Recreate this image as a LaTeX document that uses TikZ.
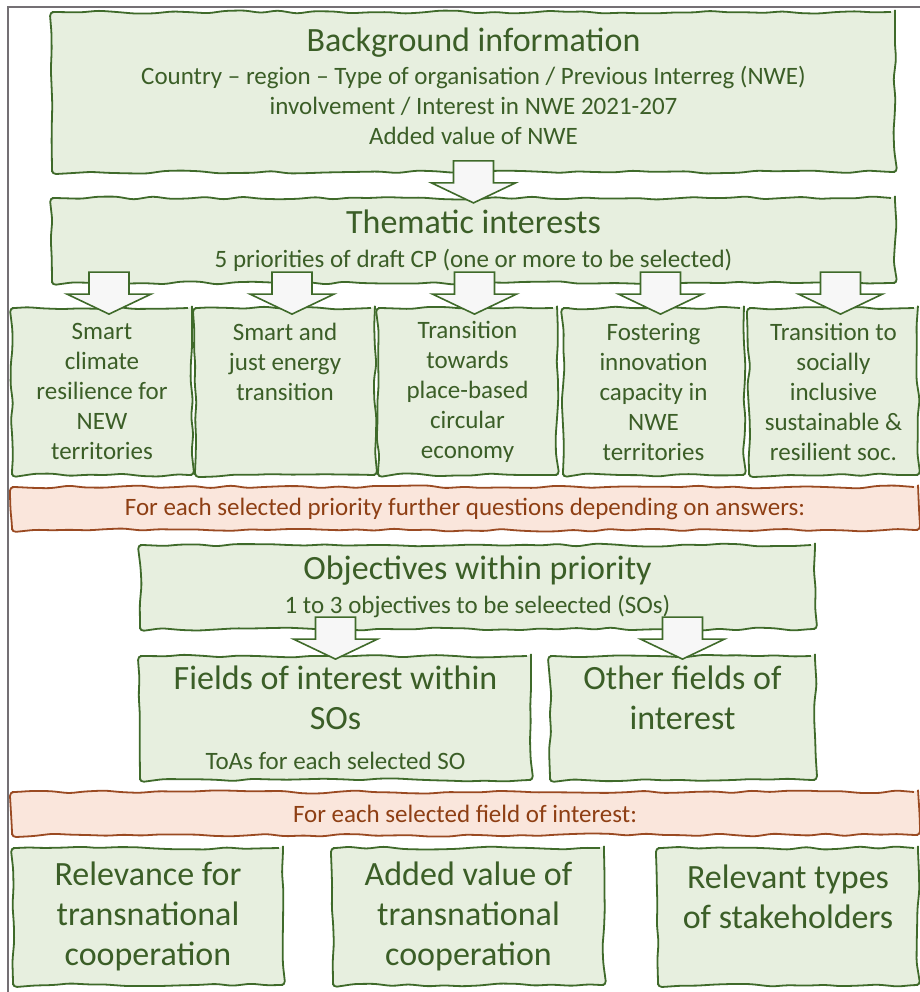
\documentclass[tikz,border=0pt]{standalone}
\usepackage{fontspec}
\setmainfont{Carlito}
\usetikzlibrary{positioning,decorations.pathmorphing}

\definecolor{boxgreen}{HTML}{E7EFDF}
\definecolor{linegreen}{HTML}{3F6A2A}
\definecolor{textgreen}{HTML}{3B5E27}
\definecolor{boxorange}{HTML}{FAE6DC}
\definecolor{lineorange}{HTML}{9A4A22}
\definecolor{textorange}{HTML}{8E3F14}
\definecolor{framegray}{HTML}{747074}

\newcommand\bigtxt{\fontsize{17}{20}\selectfont}
\newcommand\smalltxt{\fontsize{12.5}{15}\selectfont}

\tikzset{
  downarrow/.pic={
    \draw[arrowbody] (-20,-42) -- (-20,-20) -- (-42,-20) -- (0,0)
      -- (42,-20) -- (20,-20) -- (20,-42) -- cycle;
  }
}

\begin{document}
\begin{tikzpicture}[x=0.5pt, y=-0.5pt,
    sketch/.style={decorate, decoration={random steps, segment length=9pt, amplitude=0.8pt}, rounded corners=2pt},
    greenbox/.style={sketch, draw=linegreen, fill=boxgreen, line width=0.9pt, text=textgreen, align=center, inner sep=0pt},
    notebox/.style={sketch, draw=lineorange, fill=boxorange, line width=0.9pt, text=textorange, inner sep=0pt, font=\smalltxt},
    arrowbody/.style={draw=linegreen, fill=white!97!black, line width=0.8pt, line join=miter}
]
\pgfmathsetseed{7}
\useasboundingbox (0,0) rectangle (920,992);

% frame
\draw[framegray, line width=1pt] (8,992) -- (8,7) -- (920,7);

% Background and themes
\node[greenbox, font=\smalltxt, text depth=6pt, minimum width=421.5pt, minimum height=80pt] (background) at (473.5,92)
  {{\bigtxt Background information}\\[1.5pt]
   Country -- region -- Type of organisation / Previous Interreg (NWE)\\
   involvement / Interest in NWE 2021-207\\
   Added value of NWE};
\node[greenbox, font=\smalltxt, minimum width=421.5pt, minimum height=42.5pt] (thematic) at (473.5,240.5)
  {{\bigtxt Thematic interests}\\[2pt]
   5 priorities of draft CP (one or more to be selected)};

% Priorities
\node[greenbox, font=\smalltxt, minimum width=90pt, minimum height=83.5pt] (climate) at (102,391.5)
  {Smart\\climate\\resilience for\\NEW\\territories};
\node[greenbox, font=\smalltxt, minimum width=90pt, minimum height=83.5pt] (energy) at (285,391.5)
  {Smart and\\just energy\\transition\\~\\~};
\node[greenbox, font=\smalltxt, minimum width=89.5pt, minimum height=83.5pt] (circular) at (467.5,391.5)
  {Transition\\towards\\place-based\\circular\\economy};
\node[greenbox, font=\smalltxt, minimum width=90.5pt, minimum height=83.5pt] (innovation) at (653.5,391.5)
  {Fostering\\innovation\\capacity in\\NWE\\territories};
\node[greenbox, font=\smalltxt, minimum width=84.5pt, minimum height=83.5pt] (society) at (833.5,391.5)
  {Transition to\\socially\\inclusive\\sustainable \&\\resilient soc.};

\node[notebox, minimum width=453pt, minimum height=21.5pt] (prioritynote) at (465,508.5)
  {For each selected priority further questions depending on answers:};

% Objectives
\node[greenbox, font=\smalltxt, minimum width=337.5pt, minimum height=42pt] (objectives) at (477.5,587)
  {{\bigtxt Objectives within priority}\\[2pt]
   1 to 3 objectives to be seleected (SOs)};
\node[greenbox, font=\bigtxt, minimum width=195.5pt, minimum height=62pt] (fields) at (335.5,718)
  {Fields of interest within\\SOs\\{\smalltxt ToAs for each selected SO}};
\node[greenbox, font=\bigtxt, minimum width=132.5pt, minimum height=62pt] (otherfields) at (682.5,718)
  {Other fields of\\interest\\{\smalltxt ~}};

\node[notebox, minimum width=453pt, minimum height=21.5pt] (fieldnote) at (465,813.5)
  {For each selected field of interest:};

% Assessment
\node[greenbox, font=\bigtxt, minimum width=135pt, minimum height=68.5pt] (relevance) at (148,916.5)
  {Relevance for\\transnational\\cooperation};
\node[greenbox, font=\bigtxt, minimum width=135.5pt, minimum height=68.5pt] (addedvalue) at (468.5,916.5)
  {Added value of\\transnational\\cooperation};
\node[greenbox, font=\bigtxt, minimum width=130pt, minimum height=68.5pt] (stakeholders) at (788,916.5)
  {Relevant types\\of stakeholders\\~};

% Block arrows
\pic at ([yshift=-15pt]background.south) {downarrow};
\foreach \p in {climate,energy,circular,innovation,society}
  \pic at ([xshift=3.5pt,yshift=-3.5pt]\p.north) {downarrow};
\pic at ([yshift=-2pt]fields.north) {downarrow};
\pic at ([yshift=-2pt]otherfields.north) {downarrow};

\end{tikzpicture}
\end{document}
